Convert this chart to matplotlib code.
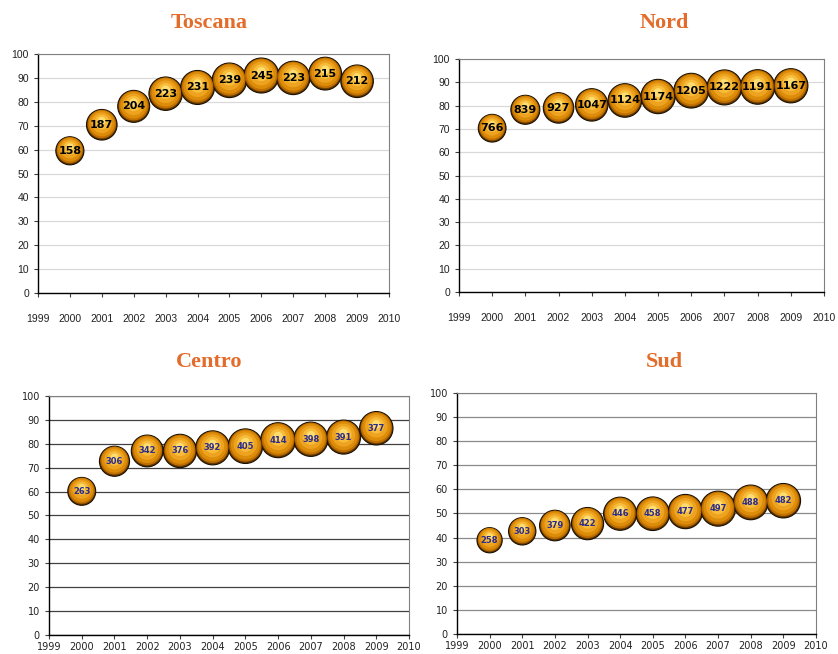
import numpy as np
import matplotlib
matplotlib.use('Agg')
import matplotlib.pyplot as plt
from matplotlib.transforms import offset_copy

# Data
years = [2000, 2001, 2002, 2003, 2004, 2005, 2006, 2007, 2008, 2009]

toscana_y = [59.5, 70.4, 78.1, 83.4, 86.0, 89.0, 91.0, 90.0, 91.8, 88.6]
toscana_n = [158, 187, 204, 223, 231, 239, 245, 223, 215, 212]

nord_y = [70.3, 78.2, 79.0, 80.3, 82.2, 83.9, 86.4, 87.8, 88.0, 88.5]
nord_n = [766, 839, 927, 1047, 1124, 1174, 1205, 1222, 1191, 1167]

centro_y = [60.1, 72.7, 77.0, 77.0, 78.3, 79.0, 81.5, 81.9, 82.8, 86.5]
centro_n = [263, 306, 342, 376, 392, 405, 414, 398, 391, 377]

sud_y = [38.9, 42.6, 45.0, 45.8, 49.9, 49.9, 50.8, 52.0, 54.6, 55.3]
sud_n = [258, 303, 379, 422, 446, 458, 477, 497, 488, 482]

xticks = list(range(1999, 2011))
yticks = list(range(0, 101, 10))

title_color = '#E36C2A'

fig = plt.figure(figsize=(8.38, 6.54), dpi=100)


def bubble_panel(rect, title, title_xy, yv, nv, style):
    ax = fig.add_axes(rect)
    nv = np.array(nv, dtype=float)
    diam = 35 * np.sqrt(nv / nv.max())          # pixels
    s = (diam * 0.72) ** 2                      # points^2

    # sphere made of stacked discs
    ax.scatter(years, yv, s=s, color='#6a3a00', edgecolor='#1a1000', lw=0.8, zorder=3)
    layers = [(0.93, '#c07000', 0.5), (0.84, '#dc8c08', 0.9),
              (0.68, '#eda220', 1.4), (0.48, '#f7bc3a', 2.0),
              (0.26, '#ffdc70', 2.8)]
    for frac, col, dy in layers:
        tr = offset_copy(ax.transData, fig=fig, x=0, y=dy, units='points')
        ax.scatter(years, yv, s=s * frac ** 2, color=col, lw=0, zorder=4, transform=tr)

    for x, y, n in zip(years, yv, nv):
        ax.text(x, y, '%d' % n, ha='center', va='center', zorder=5, **style['label'])

    ax.set_xlim(1999, 2010)
    ax.set_ylim(0, 100)
    ax.set_xticks(xticks)
    ax.set_yticks(yticks)
    ax.tick_params(axis='both', direction='out', length=3, width=0.8, color='#404040',
                   labelsize=style['ticksize'], labelcolor='#222222')
    ax.tick_params(axis='x', pad=style['xpad'])
    for lab in ax.get_xticklabels() + ax.get_yticklabels():
        lab.set_fontfamily(style['tickfont'])
    ax.grid(axis='y', color=style['grid'], lw=style['gridlw'])
    ax.set_axisbelow(True)
    ax.spines['left'].set_color('black')
    ax.spines['bottom'].set_color('black')
    ax.spines['left'].set_linewidth(1.0)
    ax.spines['bottom'].set_linewidth(1.0)
    ax.spines['top'].set_color(style['frame'])
    ax.spines['right'].set_color(style['frame'])
    fig.text(title_xy[0], title_xy[1], title, ha='center', va='center',
             fontsize=16, fontweight='bold', family='Liberation Serif', color=title_color)
    return ax


top_style = dict(label=dict(fontsize=8, fontweight='bold', color='black',
                            family='Liberation Sans Narrow'),
                 ticksize=7.5, tickfont='Liberation Sans', xpad=12,
                 grid='#d9d9d9', gridlw=0.9, frame='#808080')
bot_style = dict(label=dict(fontsize=6, fontweight='bold', color='#2b2b8c',
                            family='DejaVu Sans'),
                 ticksize=7, tickfont='DejaVu Sans', xpad=2,
                 grid='#404040', gridlw=0.9, frame='#808080')
sud_style = dict(bot_style, grid='#8a8a8a')

bubble_panel([0.0453, 0.5520, 0.4189, 0.3654], 'Toscana', (0.2494, 0.9648),
             toscana_y, toscana_n, top_style)
bubble_panel([0.5477, 0.5535, 0.4356, 0.3563], 'Nord', (0.7924, 0.9648),
             nord_y, nord_n, top_style)
bubble_panel([0.0585, 0.0291, 0.4296, 0.3654], 'Centro', (0.2494, 0.4465),
             centro_y, centro_n, bot_style)
bubble_panel([0.5453, 0.0306, 0.4284, 0.3685], 'Sud', (0.7924, 0.4465),
             sud_y, sud_n, sud_style)

fig.savefig('out.png', dpi=100)
